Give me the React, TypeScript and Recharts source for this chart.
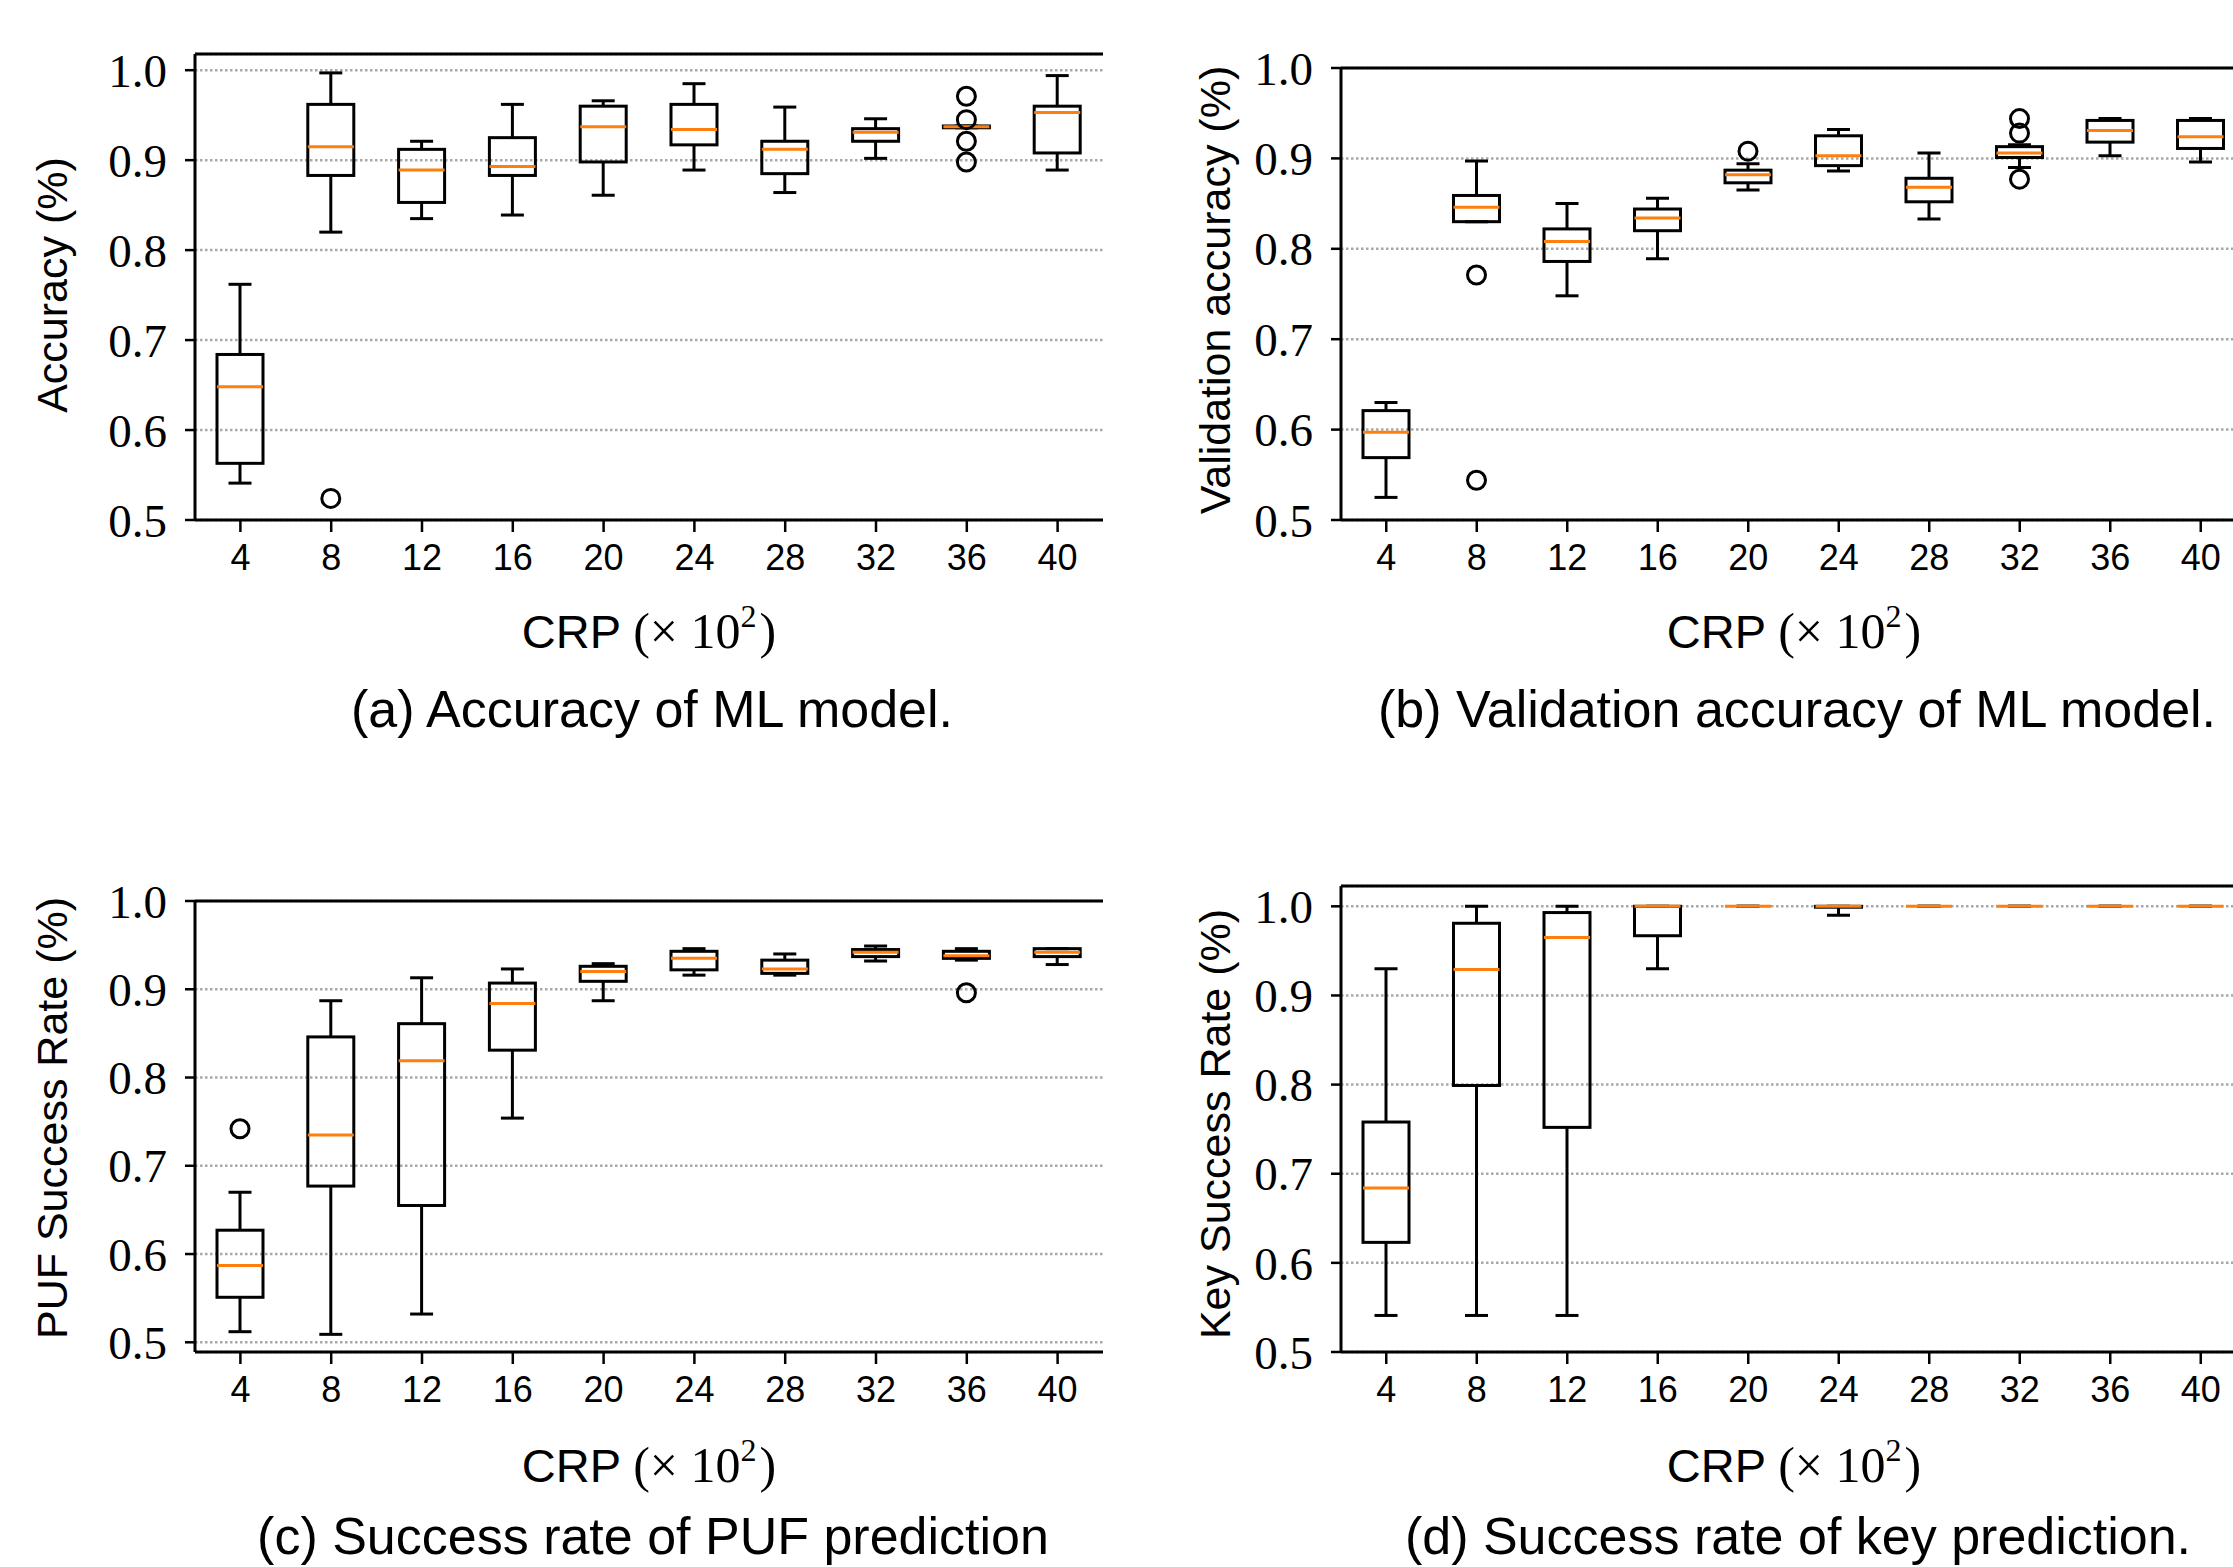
import React from "react";
import { ComposedChart, Bar, XAxis, YAxis, CartesianGrid } from "recharts";

// x categories: number of CRPs (x 10^2)
const crp = ["4", "8", "12", "16", "20", "24", "28", "32", "36", "40"];
const yTicks = [0.5, 0.6, 0.7, 0.8, 0.9, 1.0];

// (a) accuracy of ML model
const accLow = [0.541, 0.82, 0.835, 0.839, 0.861, 0.889, 0.864, 0.902, 0.936, 0.889];
const accQ1 = [0.563, 0.883, 0.853, 0.883, 0.898, 0.917, 0.885, 0.921, 0.936, 0.908];
const accMed = [0.648, 0.915, 0.889, 0.893, 0.937, 0.934, 0.912, 0.931, 0.937, 0.953];
const accQ3 = [0.684, 0.962, 0.912, 0.925, 0.96, 0.962, 0.921, 0.935, 0.938, 0.96];
const accHigh = [0.762, 0.997, 0.921, 0.962, 0.966, 0.985, 0.959, 0.946, 0.938, 0.994];
const accFliers = [[], [0.524], [], [], [], [], [], [], [0.971, 0.945, 0.921, 0.898], []];

// (b) validation accuracy
const valLow = [0.525, 0.83, 0.748, 0.789, 0.865, 0.886, 0.833, 0.89, 0.903, 0.896];
const valQ1 = [0.569, 0.83, 0.786, 0.82, 0.873, 0.892, 0.852, 0.901, 0.918, 0.911];
const valMed = [0.597, 0.846, 0.808, 0.834, 0.882, 0.903, 0.868, 0.906, 0.931, 0.924];
const valQ3 = [0.621, 0.859, 0.822, 0.844, 0.887, 0.925, 0.878, 0.913, 0.942, 0.942];
const valHigh = [0.63, 0.897, 0.85, 0.856, 0.894, 0.932, 0.906, 0.915, 0.944, 0.944];
const valFliers = [[], [0.771, 0.544], [], [], [0.908], [], [], [0.944, 0.928, 0.877], [], []];

// (c) PUF success rate
const pufLow = [0.512, 0.509, 0.532, 0.754, 0.887, 0.916, 0.916, 0.932, 0.933, 0.928];
const pufQ1 = [0.551, 0.677, 0.655, 0.831, 0.909, 0.922, 0.918, 0.937, 0.935, 0.937];
const pufMed = [0.587, 0.735, 0.819, 0.884, 0.92, 0.935, 0.923, 0.942, 0.938, 0.942];
const pufQ3 = [0.627, 0.846, 0.861, 0.907, 0.926, 0.943, 0.933, 0.945, 0.943, 0.946];
const pufHigh = [0.67, 0.887, 0.913, 0.923, 0.929, 0.946, 0.94, 0.949, 0.946, 0.946];
const pufFliers = [[0.742], [], [], [], [], [], [], [], [0.896], []];

// (d) key success rate
const keyLow = [0.541, 0.541, 0.541, 0.93, 1, 0.99, 1, 1, 1, 1];
const keyQ1 = [0.623, 0.799, 0.752, 0.967, 1, 0.999, 1, 1, 1, 1];
const keyMed = [0.684, 0.929, 0.965, 1, 1, 1, 1, 1, 1, 1];
const keyQ3 = [0.758, 0.981, 0.993, 1, 1, 1, 1, 1, 1, 1];
const keyHigh = [0.93, 1, 1, 1, 1, 1, 1, 1, 1, 1];
const keyFliers = [[], [], [], [], [], [], [], [], [], []];

type BoxRow = {
  crp: string;
  low: number;
  q1: number;
  med: number;
  q3: number;
  high: number;
  fliers: number[];
  lo: number;
  hi: number;
};

function buildRows(
  low: number[],
  q1: number[],
  med: number[],
  q3: number[],
  high: number[],
  fliers: number[][]
): BoxRow[] {
  return crp.map((c, i) => ({
    crp: c,
    low: low[i],
    q1: q1[i],
    med: med[i],
    q3: q3[i],
    high: high[i],
    fliers: fliers[i],
    lo: Math.min(low[i], ...fliers[i]),
    hi: Math.max(high[i], ...fliers[i]),
  }));
}

const INK = "#000";
const LW = 3;

// the bar spans [lo, hi]; every other level is placed inside that pixel span
function BoxShape(props: any) {
  const { x, y, width, height, payload } = props;
  const d = payload as BoxRow;
  if (!d || x == null || y == null) return <g />;
  const top = height < 0 ? y + height : y;
  const h = Math.abs(height || 0);
  const span = d.hi - d.lo;
  const py = (v: number) => (span > 0 ? top + ((d.hi - v) / span) * h : top);
  const cx = x + width / 2;
  const cap = width / 4;
  const yLow = py(d.low);
  const yQ1 = py(d.q1);
  const yMed = py(d.med);
  const yQ3 = py(d.q3);
  const yHigh = py(d.high);
  return (
    <g>
      <line x1={cx} x2={cx} y1={yQ1} y2={yLow} stroke={INK} strokeWidth={LW} />
      <line x1={cx} x2={cx} y1={yQ3} y2={yHigh} stroke={INK} strokeWidth={LW} />
      <line x1={cx - cap} x2={cx + cap} y1={yLow} y2={yLow} stroke={INK} strokeWidth={LW} />
      <line x1={cx - cap} x2={cx + cap} y1={yHigh} y2={yHigh} stroke={INK} strokeWidth={LW} />
      <rect
        x={x}
        y={yQ3}
        width={width}
        height={Math.max(yQ1 - yQ3, 0)}
        fill="none"
        stroke={INK}
        strokeWidth={LW}
      />
      <line x1={x} x2={x + width} y1={yMed} y2={yMed} stroke="#ff7f0e" strokeWidth={LW} />
      {d.fliers.map((v, k) => (
        <circle key={k} cx={cx} cy={py(v)} r={9} fill="none" stroke={INK} strokeWidth={LW} />
      ))}
    </g>
  );
}

type PanelProps = {
  rows: BoxRow[];
  domain: [number, number];
  left: number;
  top: number;
  width: number;
  height: number;
  marginTop: number;
};

function BoxPanel({ rows, domain, left, top, width, height, marginTop }: PanelProps) {
  const frame = { stroke: INK, strokeWidth: LW };
  return (
    <div style={{ position: "absolute", left, top }}>
      <ComposedChart
        width={width}
        height={height}
        data={rows}
        margin={{ top: marginTop - 1, right: 10, bottom: 0, left: 0 }}
        barCategoryGap={0}
      >
        <CartesianGrid
          horizontal
          vertical={false}
          stroke="#a8a8a8"
          strokeWidth={2.5}
          strokeDasharray="2.5 2.5"
        />
        <XAxis
          dataKey="crp"
          interval={0}
          height={60}
          axisLine={frame}
          tickLine={{ stroke: INK, strokeWidth: 2.5 }}
          tickSize={12}
          tickMargin={12}
          tick={{ fill: INK, fontSize: 36, fontFamily: "Liberation Sans" }}
        />
        <XAxis
          xAxisId="top"
          orientation="top"
          dataKey="crp"
          height={1}
          tick={false}
          tickLine={false}
          axisLine={frame}
        />
        <YAxis
          type="number"
          domain={domain}
          allowDataOverflow
          ticks={yTicks}
          width={195}
          axisLine={frame}
          tickLine={{ stroke: INK, strokeWidth: 2.5 }}
          tickSize={10}
          tickMargin={18}
          tickFormatter={(v: number) => v.toFixed(1)}
          tick={{ fill: INK, fontSize: 47, fontFamily: "Liberation Serif" }}
        />
        <YAxis
          yAxisId="right"
          orientation="right"
          type="number"
          domain={domain}
          allowDataOverflow
          width={0}
          tick={false}
          tickLine={false}
          axisLine={frame}
        />
        <Bar
          dataKey={(d: BoxRow) => [d.lo, d.hi]}
          barSize={46}
          shape={BoxShape}
          isAnimationActive={false}
        />
      </ComposedChart>
    </div>
  );
}

const accRows = buildRows(accLow, accQ1, accMed, accQ3, accHigh, accFliers);
const valRows = buildRows(valLow, valQ1, valMed, valQ3, valHigh, valFliers);
const pufRows = buildRows(pufLow, pufQ1, pufMed, pufQ3, pufHigh, pufFliers);
const keyRows = buildRows(keyLow, keyQ1, keyMed, keyQ3, keyHigh, keyFliers);

function CrpLabel({ x, y }: { x: number; y: number }) {
  return (
    <text x={x} y={y} textAnchor="middle" fontSize={47} fontFamily="Liberation Sans" fill={INK}>
      CRP{" "}
      <tspan fontFamily="Liberation Serif" fontSize={50}>(× 10</tspan>
      <tspan fontFamily="Liberation Serif" fontSize={32} dy={-21}>
        2
      </tspan>
      <tspan fontFamily="Liberation Serif" fontSize={50} dy={21} dx={3}>
        )
      </tspan>
    </text>
  );
}

function YTitle({ x, y, text }: { x: number; y: number; text: string }) {
  return (
    <text
      x={x}
      y={y}
      transform={`rotate(-90 ${x} ${y})`}
      textAnchor="middle"
      dominantBaseline="central"
      fontSize={43}
      fontFamily="Liberation Sans"
      fill={INK}
    >
      {text}
    </text>
  );
}

function Caption({ x, y, text }: { x: number; y: number; text: string }) {
  return (
    <text x={x} y={y} textAnchor="middle" fontSize={52} fontFamily="Liberation Sans" fill={INK}>
      {text}
    </text>
  );
}

export default function App() {
  return (
    <div
      style={{
        position: "absolute",
        left: 0,
        top: 0,
        width: 2233,
        height: 1567,
        overflow: "hidden",
        background: "#fff",
      }}
    >
      <BoxPanel rows={accRows} domain={[0.5, 1.018]} left={0} top={0} width={1113} height={580} marginTop={54} />
      <BoxPanel rows={valRows} domain={[0.5, 1.0]} left={1146} top={0} width={1110} height={580} marginTop={68} />
      <BoxPanel rows={pufRows} domain={[0.489, 1.0]} left={0} top={830} width={1113} height={582} marginTop={71} />
      <BoxPanel rows={keyRows} domain={[0.5, 1.0228]} left={1146} top={830} width={1110} height={582} marginTop={56} />
      <svg
        width={2233}
        height={1567}
        style={{ position: "absolute", left: 0, top: 0, pointerEvents: "none" }}
      >
        <YTitle x={52} y={285} text="Accuracy (%)" />
        <YTitle x={1215} y={290} text="Validation accuracy (%)" />
        <YTitle x={52} y={1118} text="PUF Success Rate (%)" />
        <YTitle x={1215} y={1124} text="Key Success Rate (%)" />
        <CrpLabel x={649} y={648} />
        <CrpLabel x={1794} y={648} />
        <CrpLabel x={649} y={1482} />
        <CrpLabel x={1794} y={1482} />
        <Caption x={652} y={727} text="(a) Accuracy of ML model." />
        <Caption x={1797} y={727} text="(b) Validation accuracy of ML model." />
        <Caption x={653} y={1554} text="(c) Success rate of PUF prediction" />
        <Caption x={1798} y={1554} text="(d) Success rate of key prediction." />
      </svg>
    </div>
  );
}
